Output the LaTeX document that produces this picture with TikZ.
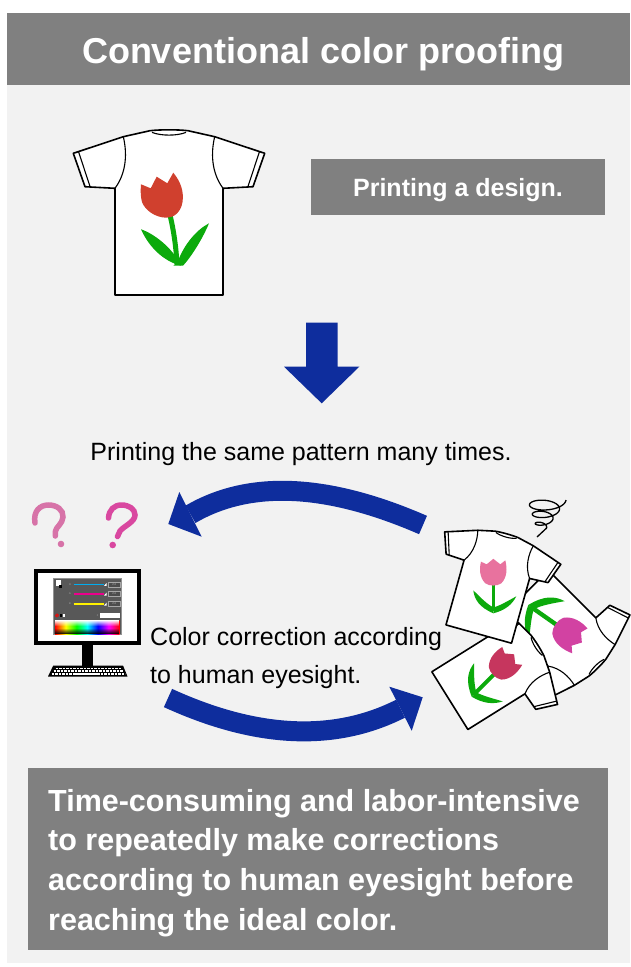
\documentclass[tikz,border=0pt]{standalone}
\usepackage{fontspec}
\setmainfont{Liberation Sans}
\usetikzlibrary{fadings}

\definecolor{panelbg}{RGB}{242,242,242}
\definecolor{barbg}{RGB}{128,128,128}
\definecolor{arrowblue}{RGB}{14,45,157}
\definecolor{leafgreen}{RGB}{12,170,12}
\definecolor{tulipred}{RGB}{208,64,46}
\definecolor{tulippink}{RGB}{232,114,158}
\definecolor{tulipmagenta}{RGB}{210,66,162}
\definecolor{tulipcrimson}{RGB}{198,54,94}
\definecolor{qpinkA}{RGB}{215,115,168}
\definecolor{qpinkB}{RGB}{217,72,160}
\definecolor{screengray}{RGB}{88,88,88}

% rainbow strip of the colour picker
\pgfdeclarehorizontalshading{spectrum}{100bp}{color(0bp)=(red); color(25bp)=(red);
  color(33.3bp)=(yellow); color(41.7bp)=(green); color(50bp)=(cyan);
  color(58.3bp)=(blue); color(66.7bp)=(magenta); color(75bp)=(red); color(100bp)=(red)}

\tikzset{
  shirtline/.style={line width=1.6pt, line join=round},
  shirtthin/.style={line width=1.1pt},
  bluearrow/.style={draw=arrowblue, line width=20pt},
  titletext/.style={anchor=base, text=white, inner sep=0pt, font=\fontsize{36}{42}\selectfont\bfseries},
  boxtext/.style={anchor=base, text=white, inner sep=0pt, font=\fontsize{25}{30}\selectfont\bfseries},
  bodytext/.style={inner sep=0pt, font=\fontsize{25}{30}\selectfont},
  summarytext/.style={anchor=base west, text=white, inner sep=0pt, font=\fontsize{30.5}{36}\selectfont\bfseries},
  tinytext/.style={inner sep=0pt, text=gray!70, font=\fontsize{2.6}{3}\selectfont},
  qline/.style={line width=5.5pt, line cap=round},
  % a T-shirt seen from the back, centred on its body
  pics/shirt/.style={code={
    \draw[shirtline, fill=white] (-19,-81.3) -- (-45.7,-75.3) -- (-95.7,-58.7) -- (-84,-25.3)
      -- (-54,-23.7) -- (-54,83) -- (54,83) -- (54,-23.7) -- (84,-25.3) -- (95.7,-58.7)
      -- (45.7,-75.3) -- (19,-81.3) .. controls (8,-82.5) and (-8,-82.5) .. cycle;
    \draw[shirtthin] (-17,-79.6) .. controls (-8,-76) and (8,-76) .. (17,-79.6);
    \draw[shirtthin] (-45.7,-75.3) .. controls (-42,-60) and (-42,-40) .. (-54,-23.7);
    \draw[shirtthin] (45.7,-75.3) .. controls (42,-60) and (42,-40) .. (54,-23.7);
    \draw[shirtthin] (-90.5,-60.4) -- (-79,-25.6);
    \draw[shirtthin] (90.5,-60.4) -- (79,-25.6);
  }},
  % small tulip, origin where the leaves meet
  pics/smalltulip/.style={code={
    \fill[leafgreen] (0,0) .. controls (-14,-6) and (-19,-14) .. (-20,-23)
      .. controls (-12,-15) and (-6,-9) .. (0,-6) -- cycle;
    \fill[leafgreen] (0,0) .. controls (12,-3) and (19,-9) .. (23,-17)
      .. controls (14,-12) and (7,-8) .. (1,-6) -- cycle;
    \fill[leafgreen] (-1.8,-2) rectangle (1.8,-32);
    \fill[#1] (-12.3,-51.6) -- (-6.6,-49) -- (0,-54.5) -- (7,-49) -- (12,-53)
      .. controls (14,-45) and (14,-36) .. (8,-30)
      .. controls (4,-27) and (-4,-27) .. (-8,-30)
      .. controls (-14,-36) and (-14,-45) .. cycle;
  }}
}

\begin{document}
\begin{tikzpicture}[x=1pt,y=-1pt]
\useasboundingbox (0,0) rectangle (630,967);
\fill[white] (0,0) rectangle (630,967);
\fill[panelbg] (7,13) rectangle (630,963);

% title bar
\fill[barbg] (7,13) rectangle (630,85);
\node[titletext] (title) at (323,63) {Conventional color proofing};

% printed shirt with the design
\pic at (169,212) {shirt};
\fill (166,293.6) rectangle (172,296);
\begin{scope}[shift={(169,212)}]
  \draw[leafgreen, line width=5pt] (1,3) .. controls (5,20) and (7,35) .. (8,52);
  \fill[leafgreen] (-28,17.3) .. controls (-20,35) and (-6,49) .. (12,53.7) -- (8,47)
    .. controls (2,36) and (-14,22) .. cycle;
  \fill[leafgreen] (40,11.3) .. controls (33,28) and (22,45) .. (14,53.7) -- (4.3,53.7) -- (9,49)
    .. controls (15,33) and (27,18) .. cycle;
  \fill[tulipred] (-28,-27.7) -- (-18.3,-23.7) -- (-12.3,-35.3) -- (-1.7,-28.7) -- (4.3,-39.3)
    .. controls (12,-30) and (15,-20) .. (13.5,-10)
    .. controls (12,0) and (5,5.7) .. (-2.3,5.7)
    .. controls (-14,5.7) and (-24,-2) .. (-27,-10)
    .. controls (-28.5,-15) and (-28.5,-22) .. cycle;
\end{scope}

% caption box
\node[fill=barbg, minimum width=294pt, minimum height=56pt, inner sep=0pt] (printbox) at (458,187) {};
\node[boxtext] (printtext) at (458,196) {Printing a design.};

% downward arrow
\fill[arrowblue] (306,322.7) -- (337.7,322.7) -- (337.7,366.7) -- (359.3,366.7)
  -- (321.7,403.3) -- (284,366.7) -- (306,366.7) -- cycle;

\node[bodytext, anchor=base] (repeat) at (301,460) {Printing the same pattern many times.};

% question marks
\draw[qline, qpinkA] (35,523) .. controls (33,511) and (40,505) .. (48.5,505)
  .. controls (57,505) and (63.5,510) .. (63,517) .. controls (62.5,524) and (56,527) .. (55.5,531) -- (55.3,536);
\fill[qpinkA] (61,544) circle (3.3);
\draw[qline, qpinkB] (108.5,518) .. controls (109,510) and (114,505) .. (121.5,505)
  .. controls (129,505) and (135,509) .. (135,515) .. controls (135,522) and (124,526) .. (120,531) -- (117.5,536.5);
\fill[qpinkB] (112.7,545) circle (3.3);

% monitor with colour picker
\draw[line width=3.6pt, fill=white] (36,571) rectangle (138.8,643);
\fill[screengray] (53.3,578.3) rectangle (121,634.3);
\draw[gray!85, line width=0.5pt] (53.3,578.3) rectangle (121,634.3);
\fill[white] (55.5,580.3) rectangle (60.5,585.8);
\fill[black] (58.8,585.2) rectangle (61.5,587.8);
\foreach \yy/\cc/\ll in {584.3/cyan/R, 594/magenta/G, 604/yellow/B} {
  \node[tinytext] at (70,\yy) {\ll};
  \draw[\cc, line width=1.1pt] (73.5,\yy) -- (104,\yy);
  \fill[white] (104,\yy+1.6) -- (106.6,\yy-1.4) -- (106.6,\yy+1.6) -- cycle;
  \draw[gray!70, fill=black!70, line width=0.4pt] (108.3,\yy-2.6) rectangle (120,\yy+2.6);
  \node[tinytext] at (114.2,\yy) {255};
}
\draw[red, line width=0.5pt] (57,615.3) circle (1.6);
\draw[red, line width=0.5pt] (55.9,616.4) -- (58.1,614.2);
\fill[black] (59.5,613.6) rectangle (62.2,617);
\fill[white] (62.6,613.6) rectangle (65.3,617);
\node[tinytext] at (97.5,615.3) {\#};
\fill[white] (100,612.5) rectangle (119.5,618.2);
\shade[shading=spectrum] (55,620) rectangle (119.3,634);
\fill[white, path fading=south] (55,620) rectangle (119.3,626);
\fill[black, path fading=north] (55,628) rectangle (119.3,634);
% stand and keyboard
\fill (81.7,645) rectangle (92.7,665.5);
\fill (53.3,665.5) -- (123,665.5) -- (127.5,676.5) -- (48,676.5) -- cycle;
\draw[white, line width=1.6pt, dash pattern=on 2.6pt off 0.9pt] (55.5,668.3) -- (121,668.3);
\draw[white, line width=1.6pt, dash pattern=on 2.6pt off 0.9pt] (53.5,671.2) -- (123,671.2);
\draw[white, line width=1.6pt, dash pattern=on 2.6pt off 0.9pt] (51.5,674.1) -- (125,674.1);
\draw[white, line width=1.6pt] (74,674.1) -- (100,674.1);

\node[bodytext, anchor=base west] (corr1) at (150,645) {Color correction according};
\node[bodytext, anchor=base west] (corr2) at (150,683) {to human eyesight.};

% pile of reprinted shirts
\pic[rotate=-135, scale=0.63] at (561.2,631.4) {shirt};
\pic[rotate=-125, scale=1.2] at (528.3,605) {smalltulip=tulipmagenta};
\pic[rotate=-58, scale=0.63] at (494.2,672.9) {shirt};
\pic[rotate=-45, scale=1.1] at (471.7,696.7) {smalltulip=tulipcrimson};
\pic[rotate=-15.6, scale=0.63] at (492.8,583.7) {shirt};
\pic at (493.3,613.3) {smalltulip=tulippink};
% confusion scribble
\draw[line width=1.3pt] plot[domain=0:1080, samples=160, smooth]
  ({547-0.005*\x+(19-0.013*\x)*cos(\x)}, {500+0.026*\x+(8-0.005*\x)*sin(\x)}) -- (537,537);

% correction loop arrows
\coordinate (loopAstart) at (423,525);
\coordinate (loopAend) at (190.5,514.3);
\coordinate (loopAtip) at (168.3,524);
\draw[bluearrow] (loopAstart) .. controls (327.3,483.3) and (249.7,479.7) .. (loopAend);
\fill[arrowblue] (loopAtip) -- (179.3,492) -- (201.7,536.7) -- cycle;

\coordinate (loopBstart) at (168,698);
\coordinate (loopBend) at (400.5,708.7);
\coordinate (loopBtip) at (422.7,697.3);
\draw[bluearrow] (loopBstart) .. controls (257,738.7) and (334.7,742) .. (loopBend);
\fill[arrowblue] (loopBtip) -- (389.3,686.7) -- (411.7,730.7) -- cycle;

% summary box
\fill[barbg] (28,768) rectangle (608,950);
\node[summarytext] (sum1) at (48,811) {Time-consuming and labor-intensive};
\node[summarytext] (sum2) at (48,850.5) {to repeatedly make corrections};
\node[summarytext] (sum3) at (48,890.3) {according to human eyesight before};
\node[summarytext] (sum4) at (48,930) {reaching the ideal color.};
\end{tikzpicture}
\end{document}
